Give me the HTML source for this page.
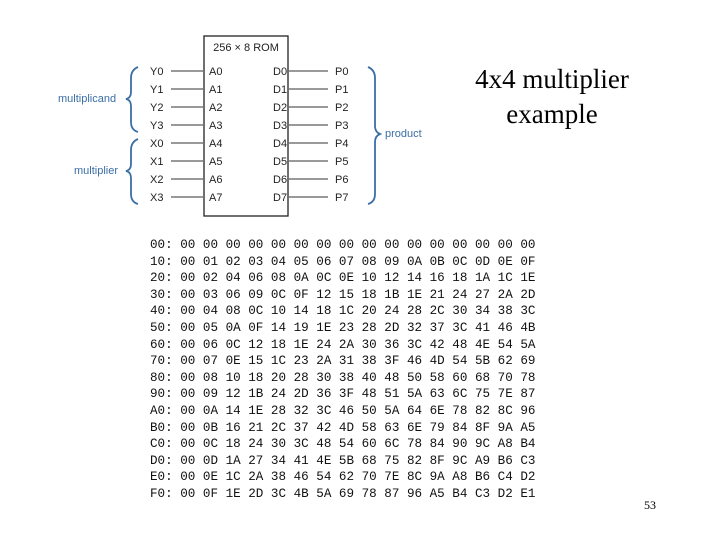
<!DOCTYPE html>
<html><head><meta charset="utf-8"><style>
html,body{margin:0;padding:0;background:#fff;}
body{width:720px;height:540px;position:relative;overflow:hidden;}
pre{position:absolute;left:150px;top:237px;margin:0;font-family:"Liberation Mono",monospace;font-size:12.6px;line-height:16.6px;color:#111;}
.t{position:absolute;font-family:"Liberation Serif",serif;color:#000;}
</style></head><body>
<svg width="720" height="240" style="position:absolute;left:0;top:0" font-family="Liberation Sans, sans-serif" font-size="11">
<rect x="204" y="36" width="84" height="180" fill="none" stroke="#222" stroke-width="1.3"/>
<text x="246" y="51" text-anchor="middle" fill="#222">256 × 8 ROM</text>
<g fill="#222">
<text x="150" y="75">Y0</text><text x="150" y="93">Y1</text><text x="150" y="111">Y2</text><text x="150" y="129">Y3</text>
<text x="150" y="147">X0</text><text x="150" y="165">X1</text><text x="150" y="183">X2</text><text x="150" y="201">X3</text>
<text x="209" y="75">A0</text><text x="209" y="93">A1</text><text x="209" y="111">A2</text><text x="209" y="129">A3</text>
<text x="209" y="147">A4</text><text x="209" y="165">A5</text><text x="209" y="183">A6</text><text x="209" y="201">A7</text>
<text x="273" y="75">D0</text><text x="273" y="93">D1</text><text x="273" y="111">D2</text><text x="273" y="129">D3</text>
<text x="273" y="147">D4</text><text x="273" y="165">D5</text><text x="273" y="183">D6</text><text x="273" y="201">D7</text>
<text x="335" y="75">P0</text><text x="335" y="93">P1</text><text x="335" y="111">P2</text><text x="335" y="129">P3</text>
<text x="335" y="147">P4</text><text x="335" y="165">P5</text><text x="335" y="183">P6</text><text x="335" y="201">P7</text>
</g>
<g stroke="#333" stroke-width="1">
<line x1="171" y1="71" x2="203" y2="71"/><line x1="171" y1="89" x2="203" y2="89"/><line x1="171" y1="107" x2="203" y2="107"/><line x1="171" y1="125" x2="203" y2="125"/>
<line x1="171" y1="143" x2="203" y2="143"/><line x1="171" y1="161" x2="203" y2="161"/><line x1="171" y1="179" x2="203" y2="179"/><line x1="171" y1="197" x2="203" y2="197"/>
<line x1="289" y1="71" x2="328" y2="71"/><line x1="289" y1="89" x2="328" y2="89"/><line x1="289" y1="107" x2="328" y2="107"/><line x1="289" y1="125" x2="328" y2="125"/>
<line x1="289" y1="143" x2="328" y2="143"/><line x1="289" y1="161" x2="328" y2="161"/><line x1="289" y1="179" x2="328" y2="179"/><line x1="289" y1="197" x2="328" y2="197"/>
</g>
<g fill="none" stroke="#3a6ea5" stroke-width="1.8">
<path d="M138,67 Q131,70 131,78 L131,92 Q131,98 126,99 Q131,100 131,106 L131,122 Q131,130 138,132"/>
<path d="M138,139 Q131,142 131,150 L131,164 Q131,170 126,171 Q131,172 131,178 L131,194 Q131,202 138,204"/>
<path d="M368,67 Q375,70 375,78 L375,126 Q375,132 380,134 Q375,136 375,142 L375,194 Q375,202 368,204"/>
</g>
<g fill="#3a6ea5">
<text x="58" y="102">multiplicand</text>
<text x="74" y="174">multiplier</text>
<text x="385" y="137">product</text>
</g>
</svg>
<div class="t" style="left:430px;top:62px;width:244px;text-align:center;font-size:27px;line-height:35px;">4x4 multiplier<br>example</div>
<div class="t" style="left:644px;top:498px;font-size:12px;">53</div>
<pre>00: 00 00 00 00 00 00 00 00 00 00 00 00 00 00 00 00
10: 00 01 02 03 04 05 06 07 08 09 0A 0B 0C 0D 0E 0F
20: 00 02 04 06 08 0A 0C 0E 10 12 14 16 18 1A 1C 1E
30: 00 03 06 09 0C 0F 12 15 18 1B 1E 21 24 27 2A 2D
40: 00 04 08 0C 10 14 18 1C 20 24 28 2C 30 34 38 3C
50: 00 05 0A 0F 14 19 1E 23 28 2D 32 37 3C 41 46 4B
60: 00 06 0C 12 18 1E 24 2A 30 36 3C 42 48 4E 54 5A
70: 00 07 0E 15 1C 23 2A 31 38 3F 46 4D 54 5B 62 69
80: 00 08 10 18 20 28 30 38 40 48 50 58 60 68 70 78
90: 00 09 12 1B 24 2D 36 3F 48 51 5A 63 6C 75 7E 87
A0: 00 0A 14 1E 28 32 3C 46 50 5A 64 6E 78 82 8C 96
B0: 00 0B 16 21 2C 37 42 4D 58 63 6E 79 84 8F 9A A5
C0: 00 0C 18 24 30 3C 48 54 60 6C 78 84 90 9C A8 B4
D0: 00 0D 1A 27 34 41 4E 5B 68 75 82 8F 9C A9 B6 C3
E0: 00 0E 1C 2A 38 46 54 62 70 7E 8C 9A A8 B6 C4 D2
F0: 00 0F 1E 2D 3C 4B 5A 69 78 87 96 A5 B4 C3 D2 E1</pre>
</body></html>
